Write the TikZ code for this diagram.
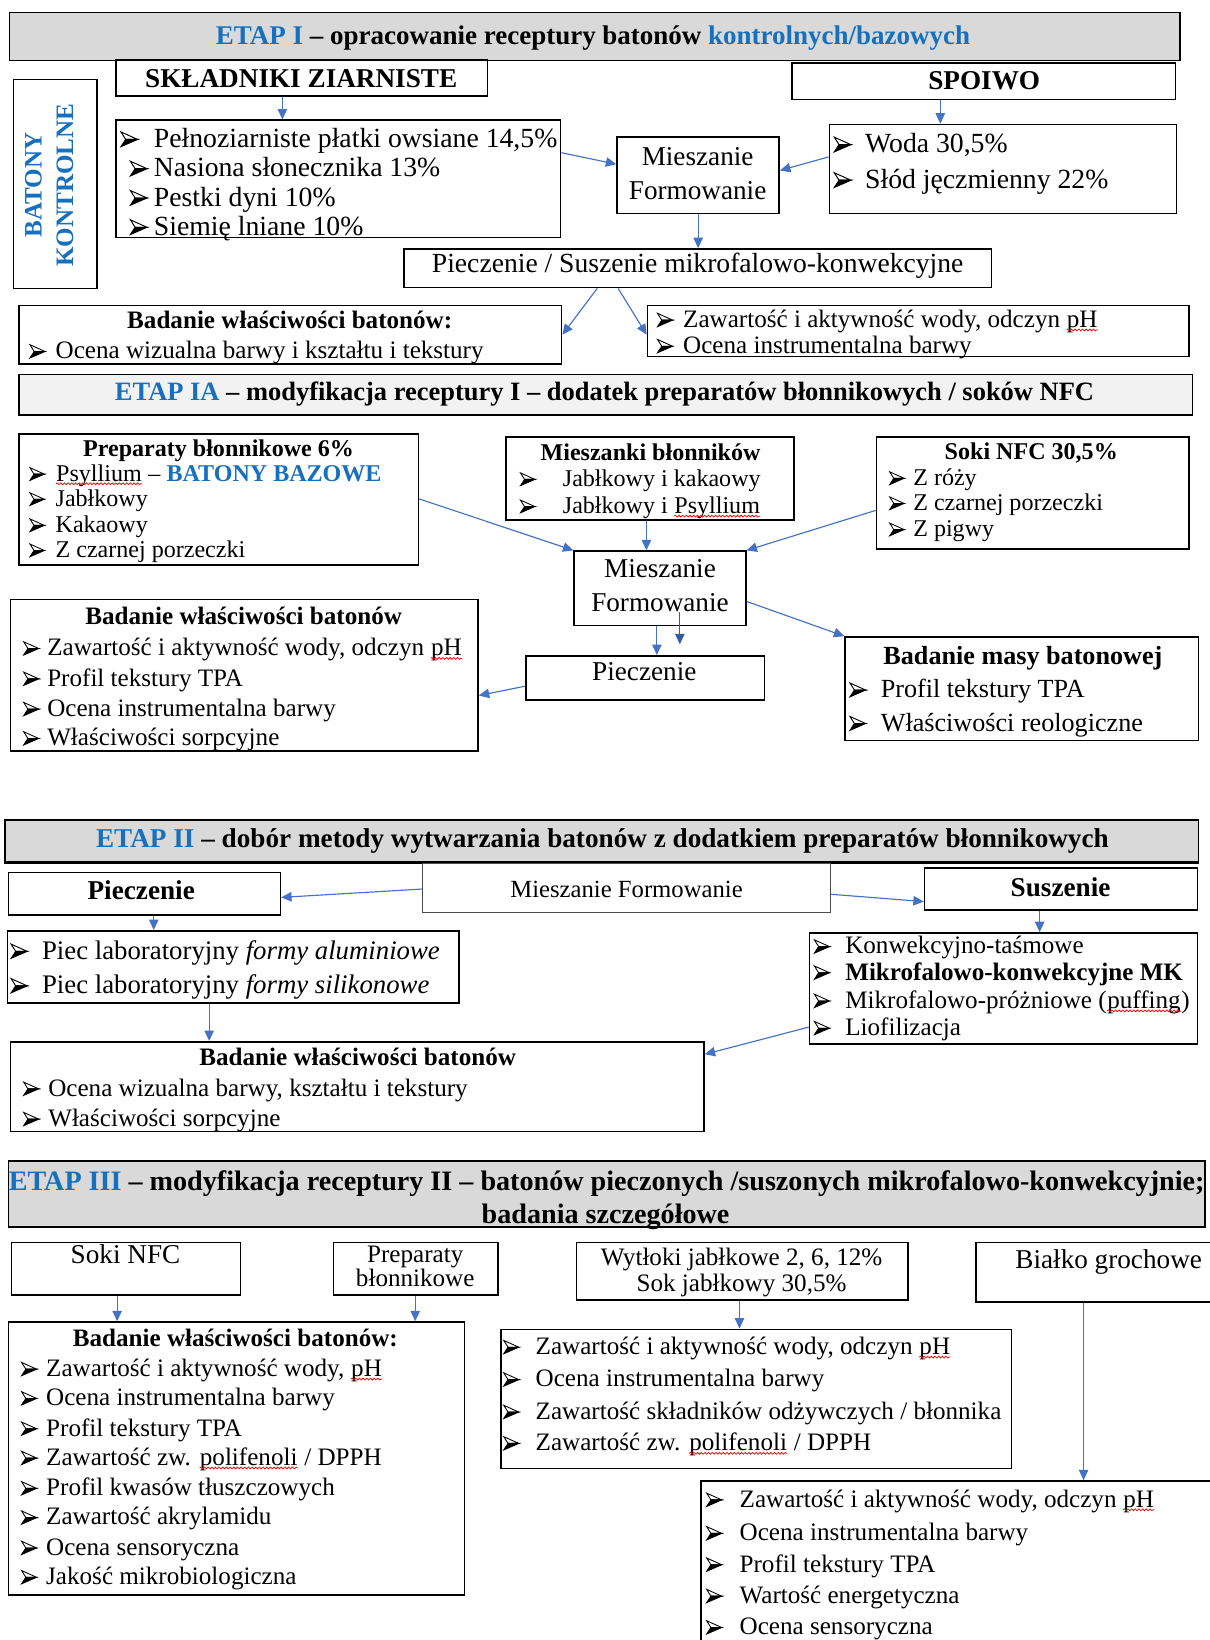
\documentclass[tikz,border=0pt]{standalone}
\usepackage{fontspec}
\usepackage{graphicx}
\setmainfont{Liberation Serif}
\usetikzlibrary{fit,arrows.meta,decorations.pathmorphing}
\definecolor{tb}{RGB}{22,112,190}
\definecolor{ab}{RGB}{68,114,196}
\definecolor{gA}{RGB}{217,217,217}
\definecolor{gB}{RGB}{242,242,242}
\newcommand\fs[1]{\fontsize{#1}{#1}\selectfont}
\newcommand\arh{\tikz[baseline=0pt, x=1em, y=1em, line join=miter]{\filldraw[line width=0.035em] (0,0.03) -- (0.6,0.29) -- (0.17,0.29) -- cycle; \draw[line width=0.035em] (0.17,0.29) -- (0.6,0.29) -- (0,0.56) -- cycle;}}
\newcommand\bl[1]{\makebox[#1pt][l]{\arh}}
\newcommand\sq[1]{\tikz[baseline=(sqx.base)]{\node[inner sep=0pt] (sqx) {#1}; \draw[red, line width=0.7pt, decorate, decoration={snake, amplitude=0.9pt, segment length=3.5pt}] ([yshift=-2.5pt]sqx.base west) -- ([yshift=-2.5pt]sqx.base east);}}
\tikzset{
  box/.style={draw, line width=1.5pt, inner sep=0pt},
  hdr/.style={box, fill=gA},
  ln/.style={anchor=base west, inner sep=0pt},
  cn/.style={anchor=base, inner sep=0pt},
  arr/.style={draw=ab, line width=1.1pt, -{Triangle[length=10pt,width=9pt]}},
}
\begin{document}
\begin{tikzpicture}[x=1pt,y=-1pt]
\fill[white] (0,0) rectangle (1156,1568);
\useasboundingbox (0,0) rectangle (1156,1568);

%%%%%%%%%%%%%%%% ETAP I
\node[hdr, fit={(9,12) (1128,58)}] (h1) {};
\node[cn, font=\fs{25.8}\bfseries] (h1t) at (567,43) {\textcolor{tb}{ETAP I} – opracowanie receptury batonów \textcolor{tb}{kontrolnych/bazowych}};
\node[box, fit={(111,57) (466,92)}] (skl) {};
\node[cn, font=\fs{26}\bfseries] (sklt) at (288,84) {SKŁADNIKI ZIARNISTE};
\node[box, fit={(757,60) (1124,95)}] (spo) {};
\node[cn, font=\fs{26}\bfseries] (spot) at (941,86) {SPOIWO};
\node[box, fit={(13,76) (93,276)}] (bk) {};
\node[rotate=90, align=center, inner sep=0pt, font=\fontsize{24}{30}\selectfont\bfseries, text=tb] (bkt) at (47,177) {BATONY\\KONTROLNE};
\node[box, fit={(111,115) (536,227)}] (ing) {};
\node[ln, font=\fs{26.5}] (i1) at (115,141) {\bl{32}Pełnoziarniste płatki owsiane 14,5\%};
\node[ln, font=\fs{26.5}] (i2) at (124,169) {\bl{23}Nasiona słonecznika 13\%};
\node[ln, font=\fs{26.5}] (i3) at (124,197) {\bl{23}Pestki dyni 10\%};
\node[ln, font=\fs{26.5}] (i4) at (124,225) {\bl{23}Siemię lniane 10\%};
\node[box, fit={(590,131) (745,204)}] (mie1) {};
\node[cn, font=\fs{26}] (m1a) at (667,158) {Mieszanie};
\node[cn, font=\fs{26}] (m1b) at (667,191) {Formowanie};
\node[box, fit={(793,119) (1125,204)}] (woda) {};
\node[ln, font=\fs{26.5}] (w1) at (797,146) {\bl{30}Woda 30,5\%};
\node[ln, font=\fs{26.5}] (w2) at (797,180) {\bl{30}Słód jęczmienny 22\%};
\node[box, fit={(386,238) (948,275)}] (pie1) {};
\node[cn, font=\fs{26.4}] (p1t) at (667,261) {Pieczenie / Suszenie mikrofalowo-konwekcyjne};
\node[box, fit={(18,292) (537,348)}] (bad1) {};
\node[cn, font=\fs{24}\bfseries] (b1t) at (277,314) {Badanie właściwości batonów:};
\node[ln, font=\fs{24}] (b1a) at (28,343) {\bl{25}Ocena wizualna barwy i kształtu i tekstury};
\node[box, fit={(619,292) (1137,341)}] (zaw1) {};
\node[ln, font=\fs{24}] (z1a) at (628,313) {\bl{25}Zawartość i aktywność wody, odczyn \sq{pH}};
\node[ln, font=\fs{24}] (z1b) at (628,338) {\bl{25}Ocena instrumentalna barwy};

\draw[arr] (skl.south -| 270,0) -- (ing.north -| 270,0);
\draw[arr] (spo.south -| 899,0) -- (woda.north -| 899,0);
\draw[arr] (ing.east |- 0,146) -- (mie1.west |- 0,157);
\draw[arr] (woda.west |- 0,150) -- (mie1.east |- 0,163);
\draw[arr] (mie1.south) -- (mie1.south |- pie1.north);
\draw[arr] (pie1.south -| 571,0) -- (bad1.east |- 0,320);
\draw[arr] (pie1.south -| 591,0) -- (zaw1.west |- 0,320);

%%%%%%%%%%%%%%%% ETAP IA
\node[box, fill=gB, fit={(18,358) (1140,397)}] (h2) {};
\node[cn, font=\fs{25.3}\bfseries] (h2t) at (578,383) {\textcolor{tb}{ETAP IA} – modyfikacja  receptury I – dodatek preparatów  błonnikowych  / soków NFC};
\node[box, fit={(18,415) (400,540)}] (prep) {};
\node[cn, font=\fs{23}\bfseries] (prt) at (209,436) {Preparaty błonnikowe 6\%};
\node[ln, font=\fs{23}] (pr1) at (28,460) {\bl{25}\sq{Psyllium} – \textbf{\textcolor{tb}{BATONY BAZOWE}}};
\node[ln, font=\fs{23}] (pr2) at (28,484) {\bl{25}Jabłkowy};
\node[ln, font=\fs{23}] (pr3) at (28,509) {\bl{25}Kakaowy};
\node[ln, font=\fs{23}] (pr4) at (28,533) {\bl{25}Z czarnej porzeczki};
\node[box, fit={(484,418) (759,497)}] (mix) {};
\node[cn, font=\fs{23}\bfseries] (mxt) at (622,440) {Mieszanki błonników};
\node[ln, font=\fs{23}] (mx1) at (497,465) {\bl{41}Jabłkowy i kakaowy};
\node[ln, font=\fs{23}] (mx2) at (497,491) {\bl{41}Jabłkowy i \sq{Psyllium}};
\node[box, fit={(838,418) (1137,525)}] (soki) {};
\node[cn, font=\fs{23}\bfseries] (skt) at (986,439) {Soki NFC 30,5\%};
\node[ln, font=\fs{23}] (sk1) at (850,464) {\bl{23}Z róży};
\node[ln, font=\fs{23}] (sk2) at (850,488) {\bl{23}Z czarnej porzeczki};
\node[ln, font=\fs{23}] (sk3) at (850,513) {\bl{23}Z pigwy};
\node[box, fit={(549,527) (713,598)}] (mie2) {};
\node[cn, font=\fs{26}] (m2a) at (631,552) {Mieszanie};
\node[cn, font=\fs{26}] (m2b) at (631,585) {Formowanie};
\node[box, fit={(503,627) (731,669)}] (pie2) {};
\node[cn, font=\fs{26}] (p2t) at (616,651) {Pieczenie};
\node[box, fit={(10,573) (457,718)}] (bad2) {};
\node[cn, font=\fs{24}\bfseries] (b2t) at (233,597) {Badanie właściwości batonów};
\node[ln, font=\fs{24}] (b2a) at (22,627) {\bl{23}Zawartość i aktywność wody, odczyn \sq{pH}};
\node[ln, font=\fs{24}] (b2b) at (22,656) {\bl{23}Profil tekstury TPA};
\node[ln, font=\fs{24}] (b2c) at (22,685) {\bl{23}Ocena instrumentalna barwy};
\node[ln, font=\fs{24}] (b2d) at (22,713) {\bl{23}Właściwości sorpcyjne};
\node[box, fit={(808,609) (1146,708)}] (masa) {};
\node[cn, font=\fs{25}\bfseries] (mst) at (978,635) {Badanie masy batonowej};
\node[ln, font=\fs{25}] (ms1) at (812,667) {\bl{30}Profil tekstury TPA};
\node[ln, font=\fs{25}] (ms2) at (812,699) {\bl{30}Właściwości reologiczne};
\coordinate (b5s) at (650,585);
\coordinate (b5e) at (650,616);

\draw[arr] (prep.east |- 0,477) -- (mie2.north west);
\draw[arr] (mix.south -| 618,0) -- (mie2.north -| 618,0);
\draw[arr] (soki.west |- 0,488) -- (mie2.north east);
\draw[arr] (mie2.south -| 628,0) -- (pie2.north -| 628,0);
\draw[arr, draw=ab!80!black] (b5s) -- (b5e);
\draw[arr] (pie2.west |- 0,656) -- (bad2.east |- 0,665);
\draw[arr] (mie2.east |- 0,575) -- (masa.north west);

%%%%%%%%%%%%%%%% ETAP II
\node[hdr, fit={(5,784) (1146,824)}] (h3) {};
\draw[line width=3pt] (h3.south west) -- (h3.south east);
\node[cn, font=\fs{26}\bfseries] (h3t) at (576,810) {\textcolor{tb}{ETAP II} – dobór metody wytwarzania batonów z dodatkiem preparatów  błonnikowych};
\node[box, fit={(8,834) (268,875)}] (pie3) {};
\node[cn, font=\fs{26}\bfseries] (p3t) at (135,860) {Pieczenie};
\node[draw=black!70, line width=0.9pt, inner sep=0pt, fit={(404,826) (794,872)}] (mf3) {};
\node[cn, font=\fs{23.6}] (mf3t) at (599,858) {Mieszanie Formowanie};
\node[box, fit={(884,830) (1145,870)}] (susz) {};
\node[cn, font=\fs{26}\bfseries] (sut) at (1014,857) {Suszenie};
\node[box, fit={(7,890) (439,959)}] (piec) {};
\node[ln, font=\fs{25.6}] (pc1) at (10,917) {\bl{30}Piec laboratoryjny \textit{formy aluminiowe}};
\node[ln, font=\fs{25.6}] (pc2) at (10,950) {\bl{30}Piec laboratoryjny \textit{formy silikonowe}};
\node[box, fit={(774,892) (1145,998)}] (slist) {};
\node[ln, font=\fs{24}] (sl1) at (778,912) {\bl{30}Konwekcyjno-taśmowe};
\node[ln, font=\fs{24}] (sl2) at (778,937) {\bl{30}\textbf{Mikrofalowo-konwekcyjne MK}};
\node[ln, font=\fs{24}] (sl3) at (778,964) {\bl{30}Mikrofalowo-próżniowe (\sq{puffing})};
\node[ln, font=\fs{24}] (sl4) at (778,990) {\bl{30}Liofilizacja};
\node[box, fit={(10,996) (673,1082)}] (bad3) {};
\node[cn, font=\fs{24}\bfseries] (b3t) at (342,1019) {Badanie właściwości batonów};
\node[ln, font=\fs{24}] (b3a) at (22,1048) {\bl{24}Ocena wizualna barwy, kształtu i tekstury};
\node[ln, font=\fs{24}] (b3b) at (22,1077) {\bl{24}Właściwości sorpcyjne};

\draw[arr] (mf3.west |- 0,850) -- (pie3.east |- 0,858);
\draw[arr] (mf3.east |- 0,855) -- (susz.west |- 0,862);
\draw[arr] (pie3.south -| 147,0) -- (piec.north -| 147,0);
\draw[arr] (susz.south -| 994,0) -- (slist.north -| 994,0);
\draw[arr] (piec.south -| 200,0) -- (bad3.north -| 200,0);
\draw[arr] (slist.west |- 0,982) -- (bad3.east |- 0,1008);

%%%%%%%%%%%%%%%% ETAP III
\node[hdr, fit={(8,1110) (1152,1173)}] (h4) {};
\node[cn, font=\fs{26.9}\bfseries] (h4a) at (580,1138) {\textcolor{tb}{ETAP III} – modyfikacja receptury II – batonów pieczonych /suszonych mikrofalowo-konwekcyjnie;};
\node[cn, font=\fs{26.9}\bfseries] (h4b) at (579,1170) {badania szczegółowe};
\node[box, fit={(11,1188) (230,1238)}] (sok4) {};
\node[cn, font=\fs{26}] (s4t) at (120,1208) {Soki NFC};
\node[box, fit={(319,1188) (476,1238)}] (prep4) {};
\node[cn, font=\fs{24}] (pp4a) at (397,1207) {Preparaty};
\node[cn, font=\fs{24}] (pp4b) at (397,1230) {błonnikowe};
\node[box, fit={(551,1188) (868,1243)}] (wyt) {};
\node[cn, font=\fs{24}] (wy1) at (709,1210) {Wytłoki jabłkowe 2, 6, 12\%};
\node[cn, font=\fs{24}] (wy2) at (709,1235) {Sok jabłkowy 30,5\%};
\node[box, fit={(933,1188) (1165,1245)}] (bia) {};
\node[cn, font=\fs{26}] (bit) at (1060,1213) {Białko grochowe};
\node[box, fit={(8,1264) (444,1525)}] (bad4) {};
\node[cn, font=\fs{24}\bfseries] (b4t) at (225,1287) {Badanie właściwości batonów:};
\node[ln, font=\fs{24}] (b4a) at (20,1316) {\bl{24}Zawartość i aktywność wody, \sq{pH}};
\node[ln, font=\fs{24}] (b4b) at (20,1344) {\bl{24}Ocena instrumentalna barwy};
\node[ln, font=\fs{24}] (b4c) at (20,1373) {\bl{24}Profil tekstury TPA};
\node[ln, font=\fs{24}] (b4d) at (20,1401) {\bl{24}Zawartość zw. \sq{polifenoli} / DPPH};
\node[ln, font=\fs{24}] (b4e) at (20,1430) {\bl{24}Profil kwasów tłuszczowych};
\node[ln, font=\fs{24}] (b4f) at (20,1458) {\bl{24}Zawartość akrylamidu};
\node[ln, font=\fs{24}] (b4g) at (20,1487) {\bl{24}Ocena sensoryczna};
\node[ln, font=\fs{24}] (b4h) at (20,1515) {\bl{24}Jakość mikrobiologiczna};
\node[box, fit={(479,1271) (967,1404)}] (mid4) {};
\node[ln, font=\fs{24}] (md1) at (481,1295) {\bl{31}Zawartość i aktywność wody, odczyn \sq{pH}};
\node[ln, font=\fs{24}] (md2) at (481,1326) {\bl{31}Ocena instrumentalna barwy};
\node[ln, font=\fs{24}] (md3) at (481,1357) {\bl{31}Zawartość składników odżywczych / błonnika};
\node[ln, font=\fs{24}] (md4) at (481,1387) {\bl{31}Zawartość zw. \sq{polifenoli} / DPPH};
\node[box, fit={(670,1416) (1165,1580)}] (br4) {};
\node[ln, font=\fs{24}] (br1) at (675,1441) {\bl{32}Zawartość i aktywność wody, odczyn \sq{pH}};
\node[ln, font=\fs{24}] (br2) at (675,1473) {\bl{32}Ocena instrumentalna barwy};
\node[ln, font=\fs{24}] (br3) at (675,1503) {\bl{32}Profil tekstury TPA};
\node[ln, font=\fs{24}] (br4t) at (675,1533) {\bl{32}Wartość energetyczna};
\node[ln, font=\fs{24}] (br5) at (675,1563) {\bl{32}Ocena sensoryczna};

\draw[arr] (sok4.south -| 112,0) -- (bad4.north -| 112,0);
\draw[arr] (prep4.south -| 397,0) -- (bad4.north -| 397,0);
\draw[arr] (wyt.south -| 707,0) -- (mid4.north -| 707,0);
\draw[arr] (bia.south -| 1036,0) -- (br4.north -| 1036,0);
\end{tikzpicture}
\end{document}
